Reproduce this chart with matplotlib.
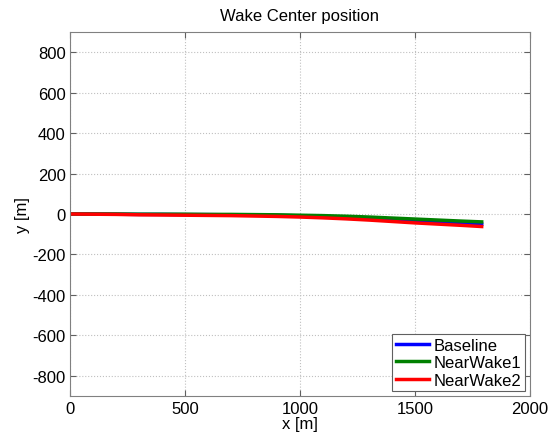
import matplotlib
matplotlib.use("Agg")
import matplotlib.pyplot as plt
import numpy as np

plt.rcParams['font.family'] = ['Liberation Sans', 'DejaVu Sans']
plt.rcParams['axes.unicode_minus'] = False

# wake center trajectory
x = [0, 100, 200, 300, 400, 500, 600, 700, 800, 900, 1000, 1100, 1200,
     1300, 1400, 1500, 1600, 1700, 1790]
y_base = [0, 0, -1, -2, -2, -3, -3, -4, -5, -7, -9, -12, -16,
          -21, -27, -33, -39, -45, -50]
y_near1 = [0, 0, 0, -1, -1, -1, -2, -2, -3, -4, -6, -8, -11,
           -15, -20, -25, -30, -35, -39]
y_near2 = [0, -1, -2, -4, -5, -6, -7, -8, -10, -12, -15, -19, -24,
           -30, -37, -44, -50, -56, -62]

labels = ["Baseline", "NearWake1", "NearWake2"]
colors = ["#0000ff", "#008000", "#ff0000"]

fig = plt.figure(figsize=(5.49, 4.39), dpi=100)
ax = fig.add_axes([70/549, 1 - 397/439, (530 - 70)/549, (397 - 33)/439])

for ys, lab, c in zip([y_base, y_near1, y_near2], labels, colors):
    ax.plot(x, ys, color=c, lw=2.5, label=lab)

ax.set_xlim(0, 2000)
ax.set_ylim(-900, 900)
ax.set_xticks(np.arange(0, 2001, 500))
ax.set_yticks(np.arange(-800, 801, 200))
ax.grid(True, linestyle=':', color='#c0c0c0', linewidth=0.8)
ax.tick_params(direction='in', labelsize=12, length=4, top=True, right=True,
               labeltop=False, labelright=False, color='#606060')
ax.tick_params(axis='y', pad=3)
for s in ax.spines.values():
    s.set_color('#808080')

ax.set_title("Wake Center position", fontsize=12, pad=9)
ax.set_xlabel("x [m]", fontsize=12, labelpad=0)
ax.set_ylabel("y [m]", fontsize=12, labelpad=2)

leg = ax.legend(loc='lower right', fontsize=12, fancybox=False, framealpha=1,
                handlelength=2.0, borderpad=0.2, labelspacing=0.15,
                borderaxespad=0.3, handletextpad=0.3)
leg.get_frame().set_edgecolor('#606060')
leg.get_frame().set_linewidth(0.8)

fig.savefig("out.png", dpi=100)
